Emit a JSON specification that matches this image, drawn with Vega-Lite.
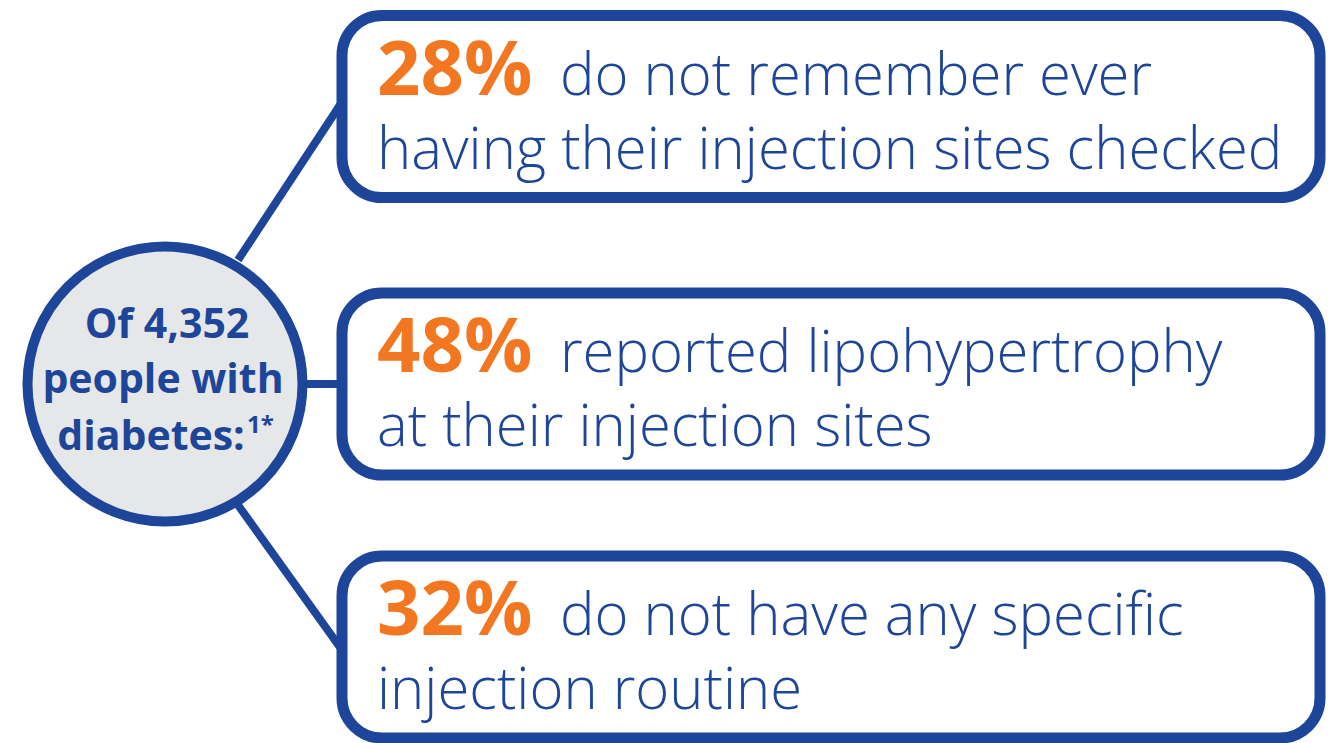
{
  "$schema": "https://vega.github.io/schema/vega-lite/v6.json",
  "width": 1328,
  "height": 743,
  "padding": 0,
  "autosize": {"type": "none"},
  "background": "white",
  "config": {"view": {"stroke": null}},
  "datasets": {
    "findings": [
      {"item": 1, "pct": "28%", "line1": "do not remember ever", "line2": "having their injection sites checked"},
      {"item": 2, "pct": "48%", "line1": "reported lipohypertrophy", "line2": "at their injection sites"},
      {"item": 3, "pct": "32%", "line1": "do not have any specific", "line2": "injection routine"}
    ],
    "hub": [
      {"part": "l1", "text": "Of 4,352"},
      {"part": "l2", "text": "people with"},
      {"part": "l3", "text": "diabetes:"},
      {"part": "sup", "text": "1*"}
    ]
  },
  "resolve": {"scale": {"y": "independent"}},
  "layer": [
    {
      "data": {"name": "findings"},
      "encoding": {
        "y": {"field": "item", "type": "quantitative", "scale": {"domain": [1, 2, 3], "range": [106.5, 384, 647], "nice": false, "zero": false}, "axis": null}
      },
      "layer": [
        {
          "mark": {"type": "rect", "fill": "white", "stroke": "#1D4599", "strokeWidth": 11, "cornerRadius": 40, "yOffset": -91, "y2Offset": 91},
          "encoding": {
            "x": {"datum": 342, "type": "quantitative", "scale": {"domain": [0, 1328], "range": [0, 1328], "nice": false, "zero": false}, "axis": null},
            "x2": {"datum": 1320},
            "y2": {"field": "item"}
          }
        },
        {
          "mark": {"type": "text", "font": "Open Sans", "fontWeight": "bold", "fontSize": 76, "fill": "#F37621", "align": "left", "baseline": "alphabetic", "dy": -12},
          "encoding": {
            "x": {"datum": 377, "type": "quantitative"},
            "text": {"field": "pct"}
          }
        },
        {
          "mark": {"type": "text", "font": "Open Sans", "fontWeight": 300, "fontSize": 58, "fill": "#1D4599", "align": "left", "baseline": "alphabetic", "dy": -12},
          "encoding": {
            "x": {"datum": 560, "type": "quantitative"},
            "text": {"field": "line1"}
          }
        },
        {
          "mark": {"type": "text", "font": "Open Sans", "fontWeight": 300, "fontSize": 58, "fill": "#1D4599", "align": "left", "baseline": "alphabetic", "dy": 62},
          "encoding": {
            "x": {"datum": 377, "type": "quantitative"},
            "text": {"field": "line2"}
          }
        }
      ]
    },
    {
      "layer": [
        {
          "data": {"values": [{}]},
          "mark": {"type": "rule", "stroke": "#1D4599", "strokeWidth": 8},
          "encoding": {
            "x": {"datum": 238, "type": "quantitative", "scale": {"domain": [0, 1328], "range": [0, 1328], "nice": false, "zero": false}, "axis": null},
            "x2": {"datum": 342},
            "y": {"datum": 260, "type": "quantitative", "scale": {"domain": [0, 743], "range": [0, 743], "nice": false, "zero": false}, "axis": null},
            "y2": {"datum": 102}
          }
        },
        {
          "data": {"values": [{}]},
          "mark": {"type": "rule", "stroke": "#1D4599", "strokeWidth": 8},
          "encoding": {
            "x": {"datum": 300, "type": "quantitative"},
            "x2": {"datum": 342},
            "y": {"datum": 384, "type": "quantitative"},
            "y2": {"datum": 384}
          }
        },
        {
          "data": {"values": [{}]},
          "mark": {"type": "rule", "stroke": "#1D4599", "strokeWidth": 8},
          "encoding": {
            "x": {"datum": 238, "type": "quantitative"},
            "x2": {"datum": 342},
            "y": {"datum": 505, "type": "quantitative"},
            "y2": {"datum": 650}
          }
        },
        {
          "data": {"values": [{}]},
          "mark": {"type": "point", "shape": "circle", "filled": true, "size": 75625, "fill": "#E6E7E8", "stroke": "#1D4599", "strokeWidth": 10, "opacity": 1},
          "encoding": {
            "x": {"datum": 165, "type": "quantitative"},
            "y": {"datum": 384, "type": "quantitative"}
          }
        },
        {
          "data": {"name": "hub"},
          "transform": [{"filter": "datum.part == 'l1'"}],
          "mark": {"type": "text", "font": "Open Sans", "fontWeight": "bold", "fontSize": 41, "fill": "#1D4599", "align": "center", "baseline": "alphabetic"},
          "encoding": {
            "x": {"datum": 167, "type": "quantitative"},
            "y": {"datum": 338, "type": "quantitative"},
            "text": {"field": "text"}
          }
        },
        {
          "data": {"name": "hub"},
          "transform": [{"filter": "datum.part == 'l2'"}],
          "mark": {"type": "text", "font": "Open Sans", "fontWeight": "bold", "fontSize": 41, "fill": "#1D4599", "align": "center", "baseline": "alphabetic"},
          "encoding": {
            "x": {"datum": 163, "type": "quantitative"},
            "y": {"datum": 393, "type": "quantitative"},
            "text": {"field": "text"}
          }
        },
        {
          "data": {"name": "hub"},
          "transform": [{"filter": "datum.part == 'l3'"}],
          "mark": {"type": "text", "font": "Open Sans", "fontWeight": "bold", "fontSize": 41, "fill": "#1D4599", "align": "center", "baseline": "alphabetic"},
          "encoding": {
            "x": {"datum": 151, "type": "quantitative"},
            "y": {"datum": 450, "type": "quantitative"},
            "text": {"field": "text"}
          }
        },
        {
          "data": {"name": "hub"},
          "transform": [{"filter": "datum.part == 'sup'"}],
          "mark": {"type": "text", "font": "Open Sans", "fontWeight": "bold", "fontSize": 24, "fill": "#1D4599", "align": "left", "baseline": "alphabetic"},
          "encoding": {
            "x": {"datum": 247, "type": "quantitative"},
            "y": {"datum": 433, "type": "quantitative"},
            "text": {"field": "text"}
          }
        }
      ]
    }
  ]
}
